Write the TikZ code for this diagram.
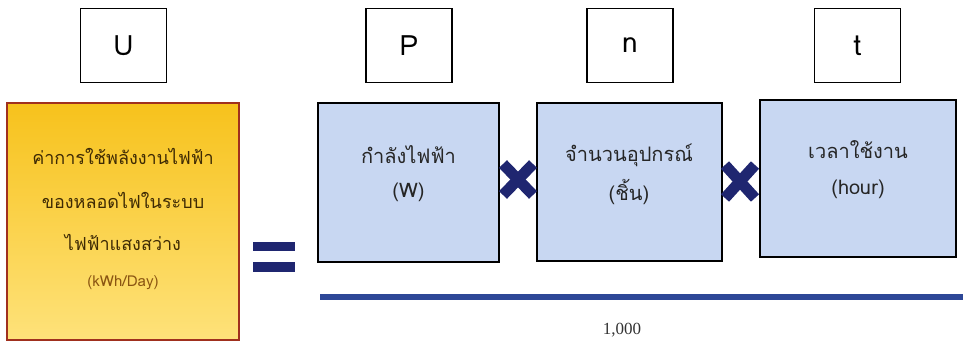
\documentclass[tikz,border=0pt]{standalone}
\usepackage{fontspec}
\setmainfont{Liberation Serif}
\newfontfamily\thaifont[Script=Thai]{Loma}
\usetikzlibrary{positioning}
\definecolor{navy}{HTML}{1F2670}
\definecolor{boxblue}{HTML}{C8D7F2}
\definecolor{goldtop}{HTML}{F7C21C}
\definecolor{goldbot}{HTML}{FEE27A}
\definecolor{redline}{HTML}{A0301E}
\definecolor{browntext}{HTML}{3E2A04}
\definecolor{unittext}{HTML}{8A5512}
\definecolor{lineblue}{HTML}{2D4797}
\tikzset{
  letterbox/.style={draw=black, line width=1.3pt, minimum width=86pt, minimum height=74pt, inner sep=0pt, font=\thaifont\fontsize{28}{30}\selectfont},
  bluebox/.style={draw=black, line width=2pt, fill=boxblue, inner sep=0pt},
  yellowbox/.style={draw=redline, line width=1.8pt, top color=goldtop, bottom color=goldbot, inner sep=0pt},
  txt/.style={font=\thaifont\fontsize{20}{22}\selectfont, text=black!85, inner sep=0pt},
  ytxt/.style={font=\thaifont\fontsize{18}{20}\selectfont, text=browntext, inner sep=0pt},
  xmark/.style={draw=navy, line width=11pt, line cap=butt},
  eqbar/.style={fill=navy, draw=none}
}
\begin{document}
\begin{tikzpicture}[x=1pt,y=-1pt]
\useasboundingbox (0,0) rectangle (965,345);
% top letter boxes
\node[letterbox] (U) at (123.5,45.5) {U};
\node[letterbox] (P) at (409,45.5) {P};
\node[letterbox] (N) at (630,45.5) {n};
\node[letterbox] (T) at (857.5,45.5) {t};
% yellow box
\node[yellowbox, minimum width=232pt, minimum height=237pt] (Y) at (123,221.5) {};
\node[ytxt] (y1) at (123,156) {ค่าการใช้พลังงานไฟฟ้า};
\node[ytxt] (y2) at (123,200) {ของหลอดไฟในระบบ};
\node[ytxt] (y3) at (123,242) {ไฟฟ้าแสงสว่าง};
\node[font=\thaifont\fontsize{15}{17}\selectfont, text=unittext, inner sep=0pt] (y4) at (123,283) {(kWh/Day)};
% equals sign
\coordinate (eqa) at (253,242);
\coordinate (eqb) at (295,251);
\coordinate (eqc) at (253,262);
\coordinate (eqd) at (295,272);
\fill[eqbar] (eqa) rectangle (eqb);
\fill[eqbar] (eqc) rectangle (eqd);
% blue boxes
\node[bluebox, minimum width=181pt, minimum height=159pt] (B1) at (408.5,182.5) {};
\node[bluebox, minimum width=185pt, minimum height=158pt] (B2) at (629,182) {};
\node[bluebox, minimum width=196pt, minimum height=157pt] (B3) at (858,178.5) {};
\node[txt] (b1a) at (408.5,155) {กำลังไฟฟ้า};
\node[txt] (b1b) at (408.5,192) {(W)};
\node[txt] (b2a) at (629,155) {จำนวนอุปกรณ์};
\node[txt] (b2b) at (629,192) {(ชิ้น)};
\node[txt] (b3a) at (858,150) {เวลาใช้งาน};
\node[txt] (b3b) at (858,189) {(hour)};
% multiplication signs
\coordinate (x1a) at (503,164);
\coordinate (x1b) at (533,195);
\coordinate (x1c) at (533,164);
\coordinate (x1d) at (503,195);
\draw[xmark] (x1a) -- (x1b);
\draw[xmark] (x1c) -- (x1d);
\coordinate (x2a) at (725,165);
\coordinate (x2b) at (755,198);
\coordinate (x2c) at (755,165);
\coordinate (x2d) at (725,198);
\draw[xmark] (x2a) -- (x2b);
\draw[xmark] (x2c) -- (x2d);
% fraction line
\coordinate (la) at (320,297);
\coordinate (lb) at (963,297);
\draw[lineblue, line width=6pt] (la) -- (lb);
\node[font=\fontsize{17}{19}\selectfont, text=black!80, inner sep=0pt] (k) at (622,330) {1,000};
\end{tikzpicture}
\end{document}
